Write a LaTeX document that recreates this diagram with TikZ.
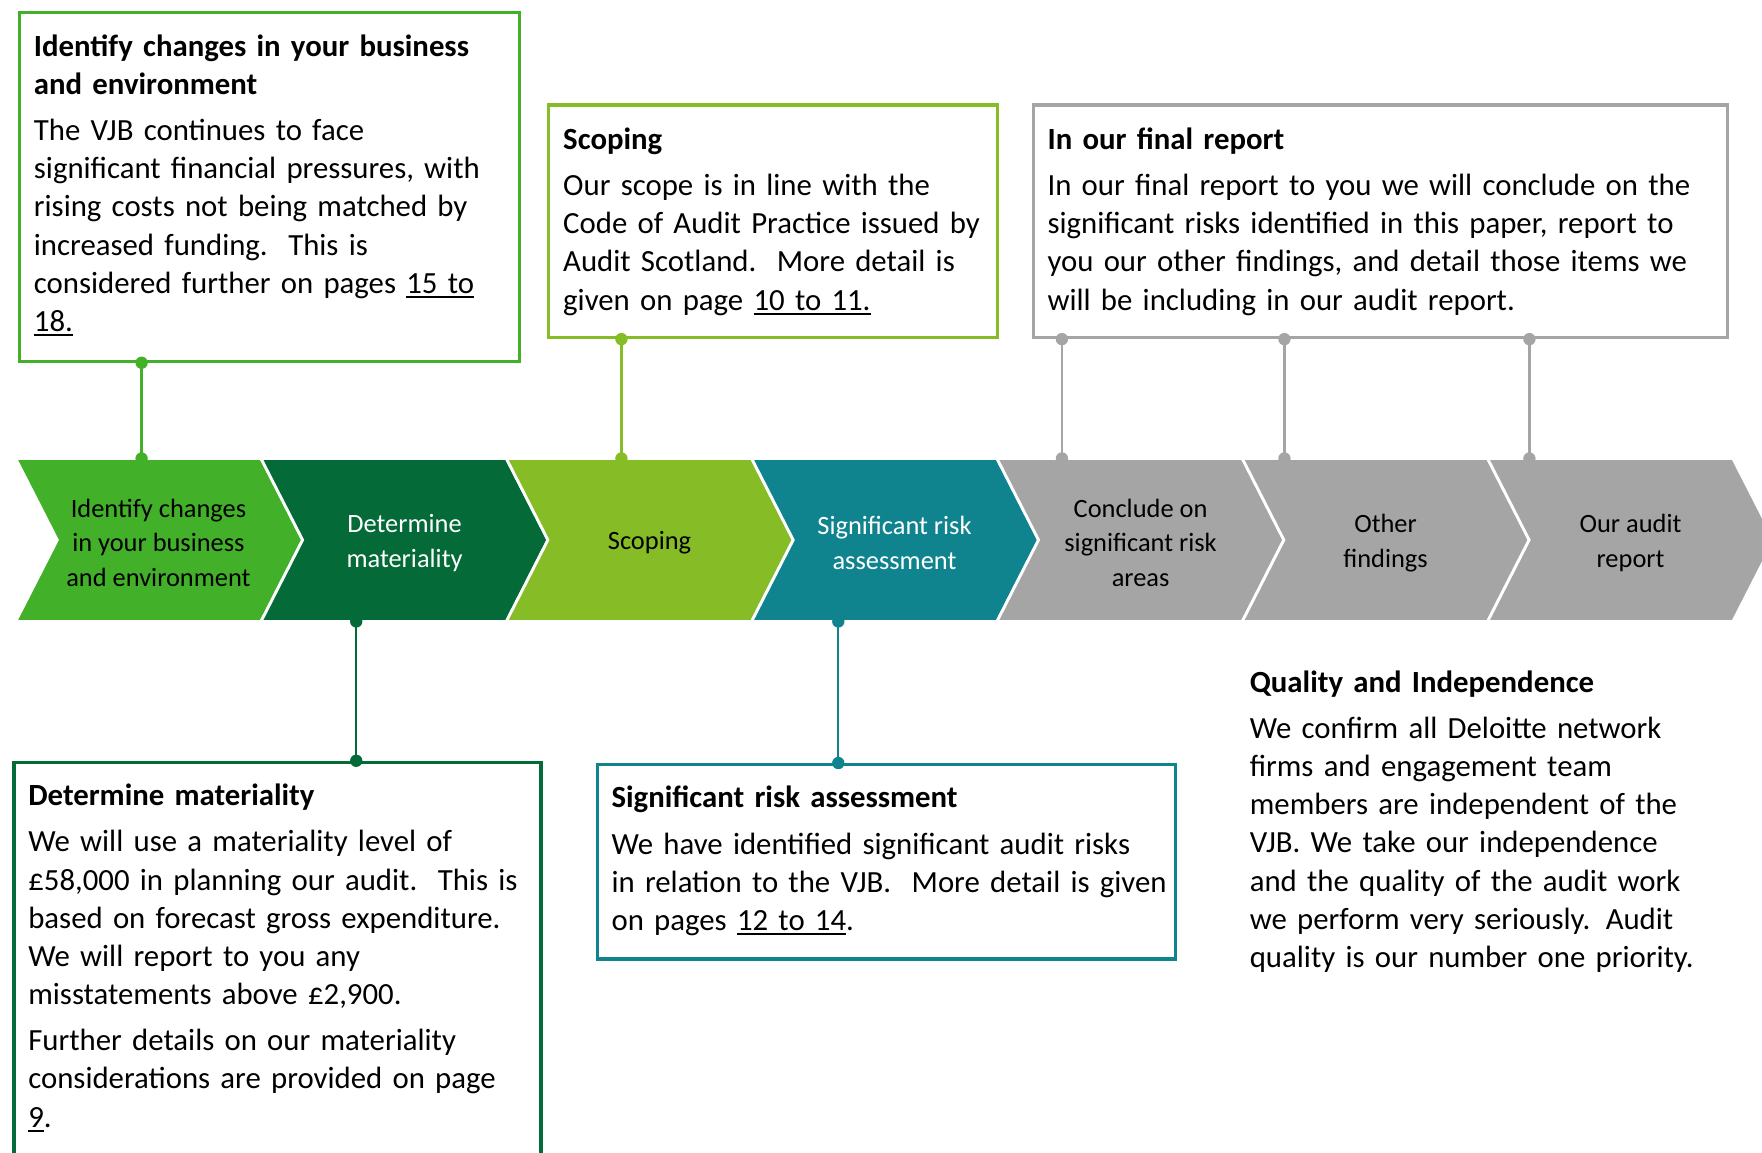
\documentclass[tikz,border=0pt]{standalone}
\usepackage{fontspec}
\setmainfont{Carlito}
\definecolor{cgreen}{HTML}{43B02A}
\definecolor{cdark}{HTML}{046A38}
\definecolor{clime}{HTML}{86BC25}
\definecolor{cteal}{HTML}{0F848F}
\definecolor{cgray}{HTML}{A5A5A5}
\newcommand\ulk[1]{\leavevmode\setbox0\hbox{#1}\rlap{\rule[-4pt]{\wd0}{1.8pt}}\box0}
\tikzset{
  chev/.style={fill=#1, draw=white, line width=2.5pt, line join=miter},
  chevtext/.style={align=center, font=\fontsize{23.5}{31}\selectfont, inner sep=0pt},
  infobox/.style={draw=#1, line width=2.8pt, rectangle, inner sep=0pt, anchor=north west},
  boxtext/.style={anchor=base west, align=left, inner sep=0pt, text width=#1, font=\fontsize{27.4}{34}\selectfont},
  conn/.style={draw=#1, line width=2pt},
  dot/.style={circle, fill=#1, inner sep=0pt, minimum size=11pt},
}
\begin{document}
\begin{tikzpicture}[x=1pt,y=-1pt]
\useasboundingbox (0,0) rectangle (1568,1026);
\begin{scope}
\clip (0,0) rectangle (1568,1026);
% chevrons
\def\cw{218.3}\def\cd{37}
\foreach \i/\col in {0/cgreen,1/cdark,2/clime,3/cteal,4/cgray,5/cgray,6/cgray}{
  \pgfmathsetmacro\xo{14+\cw*\i}
  \path[chev=\col] (\xo,408) -- (\xo+\cw,408) -- (\xo+\cw+\cd,480.5) -- (\xo+\cw,553) -- (\xo,553) -- (\xo+\cd,480.5) -- cycle;
}
\node[chevtext] (t1) at (141,483) {Identify changes\\in your business\\and environment};
\node[chevtext, text=white] (t2) at (360,483) {Determine\\materiality};
\node[chevtext] (t3) at (578,483) {Scoping};
\node[chevtext, text=white] (t4) at (796,483) {Significant risk\\assessment};
\node[chevtext] (t5) at (1015,483) {Conclude on\\significant risk\\areas};
\node[chevtext] (t6) at (1233,483) {Other\\findings};
\node[chevtext] (t7) at (1451,483) {Our audit\\report};
% anchor points on chevrons
\coordinate (a1) at (126,408);
\coordinate (a3) at (553,408);
\coordinate (a5) at (945,408);
\coordinate (a6) at (1143,408);
\coordinate (a7) at (1361,408);
\coordinate (a2) at (317,553);
\coordinate (a4) at (746,553);
% boxes
\node[infobox=cgreen, minimum width=445pt, minimum height=310pt] (b1) at (16,10) {};
\node[infobox=clime, minimum width=399pt, minimum height=207pt] (b3) at (487,92) {};
\node[infobox=cgray, minimum width=618pt, minimum height=207pt] (b5) at (918,92) {};
\node[infobox=cdark, minimum width=469pt, minimum height=400pt] (b2) at (11,677) {};
\node[infobox=cteal, minimum width=515pt, minimum height=173pt] (b4) at (530,679) {};
% connectors
\draw[conn=cgreen] (b1.south -| a1) node[dot=cgreen]{} -- (a1) node[dot=cgreen]{};
\draw[conn=clime] (b3.south -| a3) node[dot=clime]{} -- (a3) node[dot=clime]{};
\draw[conn=cgray] (b5.south -| a5) node[dot=cgray]{} -- (a5) node[dot=cgray]{};
\draw[conn=cgray] (b5.south -| a6) node[dot=cgray]{} -- (a6) node[dot=cgray]{};
\draw[conn=cgray] (b5.south -| a7) node[dot=cgray]{} -- (a7) node[dot=cgray]{};
\draw[conn=cdark] (a2) node[dot=cdark]{} -- (b2.north -| a2) node[dot=cdark]{};
\draw[conn=cteal] (a4) node[dot=cteal]{} -- (b4.north -| a4) node[dot=cteal]{};
% texts
\node[boxtext=700pt] (x1) at (30,50) {\textbf{Identify changes in your business}\\\textbf{and environment}\\[7pt]
The VJB continues to face\\significant financial pressures, with\\rising costs not being matched by\\increased funding.\ \ This is\\considered further on pages \ulk{15 to}\\\ulk{18.}};
\node[boxtext=700pt] (x3) at (501,133) {\textbf{Scoping}\\[7pt]
Our scope is in line with the\\Code of Audit Practice issued by\\Audit Scotland.\ \ More detail is\\given on page \ulk{10 to 11.}};
\node[boxtext=700pt] (x5) at (932,133) {\textbf{In our final report}\\[7pt]
In our final report to you we will conclude on the\\significant risks identified in this paper, report to\\you our other findings, and detail those items we\\will be including in our audit report.};
\node[boxtext=700pt] (x2) at (25,717) {\textbf{Determine materiality}\\[7pt]
We will use a materiality level of\\£58,000 in planning our audit.\ \ This is\\based on forecast gross expenditure.\\We will report to you any\\misstatements above £2,900.\\[7pt]
Further details on our materiality\\considerations are provided on page\\\ulk{9}.};
\node[boxtext=700pt] (x4) at (544,719) {\textbf{Significant risk assessment}\\[7pt]
We have identified significant audit risks\\in relation to the VJB.\ \ More detail is given\\on pages \ulk{12 to 14}.};
\node[boxtext=700pt] (x6) at (1112,616) {\textbf{Quality and Independence}\\[7pt]
We confirm all Deloitte network\\firms and engagement team\\members are independent of the\\VJB. We take our independence\\and the quality of the audit work\\we perform very seriously. Audit\\quality is our number one priority.};
\end{scope}
\end{tikzpicture}
\end{document}
